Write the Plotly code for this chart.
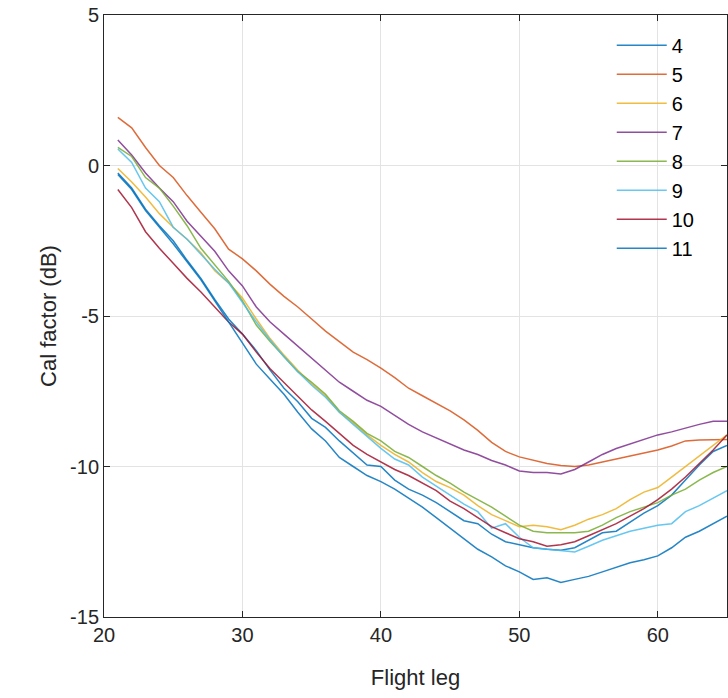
import plotly.graph_objects as go

legs = list(range(21, 66))

names = ["4", "5", "6", "7", "8", "9", "10", "11"]

s4 = [-0.25, -0.75, -1.45, -2.0, -2.5, -3.15, -3.75, -4.45, -5.1, -5.6,
      -6.15, -6.8, -7.4, -7.85, -8.4, -8.7, -9.15, -9.55, -9.95, -10.0,
      -10.45, -10.75, -10.95, -11.2, -11.5, -11.8, -11.9, -12.25, -12.5, -12.6,
      -12.7, -12.75, -12.78, -12.7, -12.45, -12.2, -12.15, -11.85, -11.55, -11.3,
      -10.95, -10.45, -9.95, -9.5, -9.3]
s5 = [1.6, 1.25, 0.6, 0.0, -0.4, -1.0, -1.55, -2.1, -2.78, -3.1,
      -3.5, -3.95, -4.35, -4.7, -5.1, -5.5, -5.85, -6.2, -6.45, -6.73,
      -7.05, -7.4, -7.65, -7.9, -8.15, -8.45, -8.8, -9.2, -9.5, -9.68,
      -9.8, -9.9, -9.97, -10.0, -9.95, -9.85, -9.75, -9.65, -9.55, -9.45,
      -9.32, -9.15, -9.12, -9.1, -9.1]
s6 = [-0.1, -0.55, -1.05, -1.6, -2.05, -2.45, -2.9, -3.5, -3.9, -4.4,
      -5.1, -5.75, -6.3, -6.8, -7.25, -7.65, -8.2, -8.55, -8.95, -9.3,
      -9.6, -9.85, -10.2, -10.5, -10.7, -10.95, -11.3, -11.6, -11.8, -12.0,
      -11.95, -12.0, -12.1, -11.95, -11.75, -11.6, -11.4, -11.1, -10.85, -10.7,
      -10.35, -10.0, -9.65, -9.3, -8.95]
s7 = [0.85, 0.35, -0.25, -0.75, -1.2, -1.85, -2.35, -2.85, -3.5, -4.0,
      -4.7, -5.2, -5.6, -6.0, -6.4, -6.8, -7.2, -7.5, -7.8, -8.0,
      -8.3, -8.6, -8.85, -9.05, -9.25, -9.45, -9.6, -9.8, -9.95, -10.15,
      -10.2, -10.2, -10.25, -10.1, -9.85, -9.6, -9.4, -9.25, -9.1, -8.95,
      -8.85, -8.72, -8.6, -8.5, -8.5]
s8 = [0.6, 0.3, -0.4, -0.75, -1.35, -2.0, -2.75, -3.3, -3.85, -4.5,
      -5.3, -5.85, -6.35, -6.85, -7.2, -7.6, -8.15, -8.5, -8.9, -9.15,
      -9.5, -9.7, -10.0, -10.3, -10.55, -10.85, -11.1, -11.35, -11.65, -11.95,
      -12.15, -12.2, -12.2, -12.2, -12.15, -11.95, -11.7, -11.5, -11.35, -11.2,
      -10.95, -10.75, -10.45, -10.2, -10.0]
s9 = [0.55, 0.1, -0.75, -1.2, -2.05, -2.45, -2.95, -3.45, -3.9, -4.55,
      -5.2, -5.8, -6.35, -6.85, -7.3, -7.7, -8.2, -8.6, -9.0, -9.4,
      -9.75, -9.95, -10.35, -10.65, -10.95, -11.25, -11.5, -12.05, -11.9, -12.35,
      -12.7, -12.75, -12.8, -12.84, -12.65, -12.45, -12.3, -12.15, -12.05, -11.95,
      -11.9, -11.5, -11.3, -11.05, -10.8]
s10 = [-0.8, -1.4, -2.2, -2.75, -3.25, -3.75, -4.2, -4.7, -5.2, -5.6,
       -6.2, -6.75, -7.2, -7.65, -8.12, -8.5, -8.89, -9.3, -9.6, -9.85,
       -10.1, -10.3, -10.55, -10.8, -11.15, -11.4, -11.7, -12.0, -12.2, -12.4,
       -12.5, -12.65, -12.6, -12.5, -12.3, -12.1, -11.9, -11.65, -11.4, -11.1,
       -10.75, -10.35, -9.9, -9.45, -8.95]
s11 = [-0.3, -0.8, -1.5, -2.05, -2.6, -3.2, -3.8, -4.5, -5.2, -5.9,
       -6.6, -7.1, -7.6, -8.2, -8.75, -9.15, -9.7, -10.0, -10.3, -10.5,
       -10.75, -11.05, -11.35, -11.7, -12.05, -12.4, -12.75, -13.0, -13.3, -13.5,
       -13.75, -13.7, -13.85, -13.75, -13.65, -13.5, -13.35, -13.2, -13.1, -12.97,
       -12.7, -12.35, -12.15, -11.9, -11.65]

series = [s4, s5, s6, s7, s8, s9, s10, s11]
colors = ["#0072BD", "#D95319", "#EDB120", "#7E2F8E", "#77AC30", "#4DBEEE", "#A2142F", "#0072BD"]

x_ticks = [20, 30, 40, 50, 60]
x_labels = ["20", "30", "40", "50", "60"]
y_ticks = [-15, -10, -5, 0, 5]
y_labels = ["-15", "-10", "-5", "0", "5"]

fig = go.Figure()
for name, ys, c in zip(names, series, colors):
    fig.add_trace(go.Scatter(x=legs, y=ys, mode="lines", name=name,
                             line=dict(color=c, width=1.5), opacity=0.85))

axis_common = dict(
    showline=True, linecolor="#262626", linewidth=1, mirror="ticks",
    ticks="inside", ticklen=6, tickcolor="#262626",
    showgrid=True, gridcolor="#e3e3e3", gridwidth=1, zeroline=False,
    automargin=False, ticklabeloverflow="allow",
    tickfont=dict(family="Liberation Sans, Arial, sans-serif", size=20, color="#262626"),
)

fig.update_layout(
    width=728, height=698,
    paper_bgcolor="white", plot_bgcolor="white",
    margin=dict(l=104, r=1, t=15, b=81),
    font=dict(family="Liberation Sans, Arial, sans-serif", color="#262626"),
    xaxis=dict(range=[20, 65], tickvals=x_ticks, ticktext=x_labels,
               title=dict(text="Flight leg", font=dict(size=22), standoff=24),
               **axis_common),
    yaxis=dict(range=[-15, 5], tickvals=y_ticks, ticktext=y_labels,
               title=dict(text="Cal factor (dB)", font=dict(size=22), standoff=7),
               **axis_common),
    legend=dict(x=0.815, y=0.982, xanchor="left", yanchor="top",
                bgcolor="rgba(0,0,0,0)", borderwidth=0,
                font=dict(size=20, color="#000000"),
                itemwidth=50, tracegroupgap=0),
    showlegend=True,
)

# remove the default 8px page margin so the 728x698 figure fills the window
fig.write_html("out.html",
               config={"displayModeBar": False},
               post_script="document.body.style.margin='0px';document.body.style.overflow='hidden';")
